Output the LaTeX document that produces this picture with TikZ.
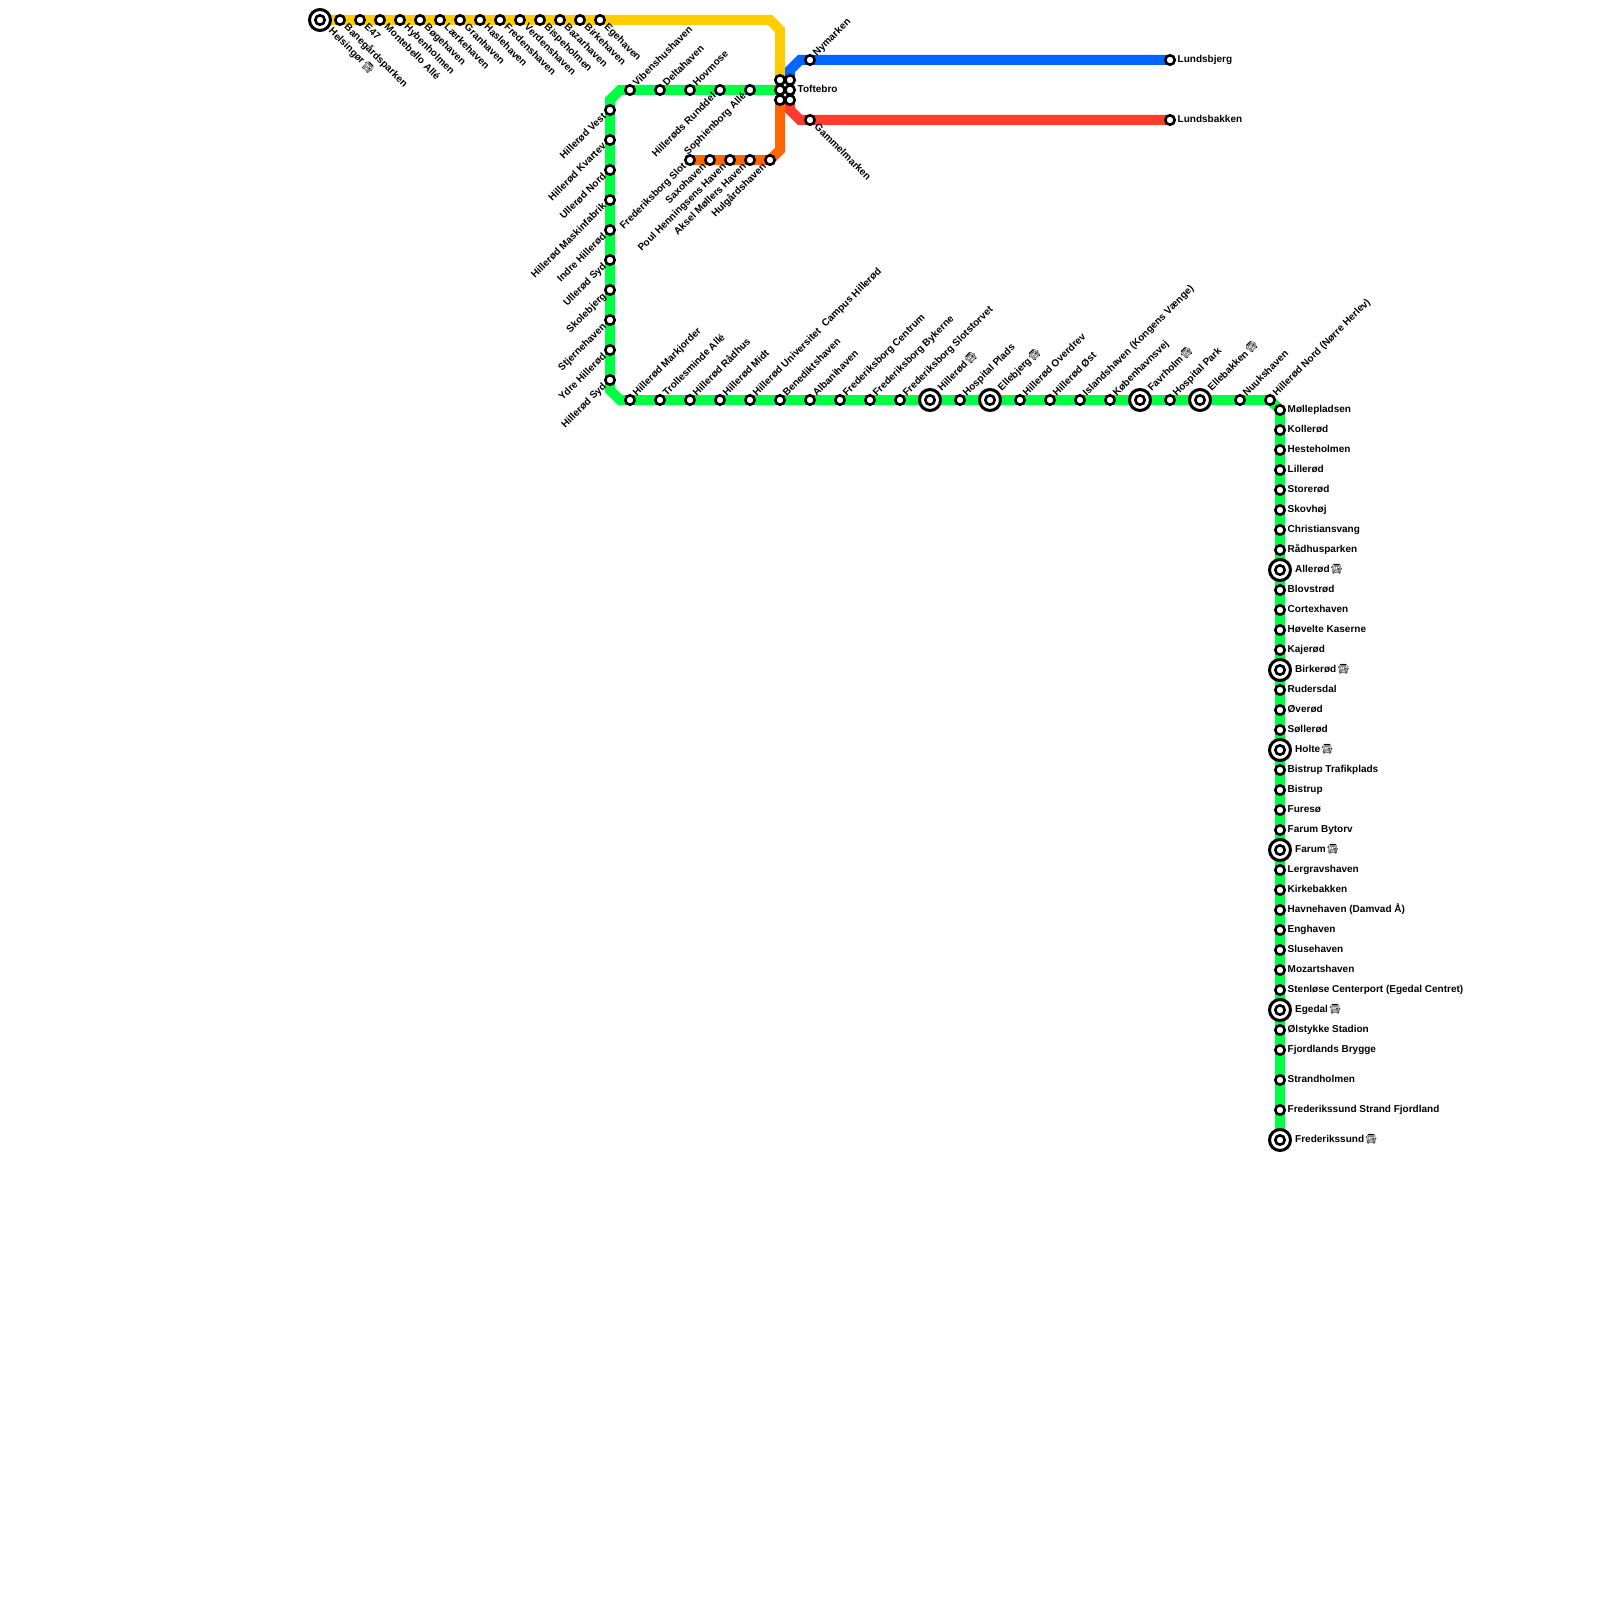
\documentclass[tikz,border=0pt]{standalone}
\usepackage{fontspec}
\setmainfont{Liberation Sans}
\newfontfamily\emojifont{Noto Emoji}
\usetikzlibrary{backgrounds}
\newcommand{\busicon}{\kern1pt{\fontsize{9.5}{9.5}\emojifont\symbol{"1F68D}}}
\tikzset{
    stn/.style={circle, draw=black, fill=white, line width=2.6pt, minimum size=9.4pt, inner sep=0pt},
    bigstn/.style={circle, draw=black, fill=white, line width=3pt, minimum size=21pt, inner sep=0pt},
    route/.style={line width=10pt, line join=miter},
    lbl/.style={font=\fontsize{10}{12}\selectfont\bfseries, inner sep=0pt, text height=7pt, text depth=2pt},
    lblright/.style={lbl, anchor=west},
    lblup/.style={lbl, anchor=west, rotate=45},
    lbldown/.style={lbl, anchor=west, rotate=-45},
    lblleft/.style={lbl, anchor=east, rotate=45},
}
\definecolor{lineyellow}{HTML}{FFCC00}
\definecolor{linegreen}{HTML}{00FF44}
\definecolor{lineblue}{HTML}{0066FF}
\definecolor{linered}{HTML}{FF3B30}
\definecolor{lineorange}{HTML}{FF6600}
\begin{document}
\begin{tikzpicture}[x=1pt, y=-1pt]
        \useasboundingbox (0,0) rectangle (1600,1600);

        % Yellow line
        \node[bigstn] (helsingor) at (320,20) {};
        \node[stn] at (320,20) {};
        \node[lbldown] at (330,30) {Helsingør\busicon};
        \foreach \x/\name [count=\i] in {340/Banegårdsparken, 360/E47, 380/Montebello Allé, 400/Hybenholmen,
            420/Bøgehaven, 440/Lærkehaven, 460/Granhaven, 480/Haslehaven, 500/Fredenshaven,
            520/Verdenshaven, 540/Bispeholmen, 560/Bazarhaven, 580/Birkehaven, 600/Egehaven} {
            \node[stn] (y\i) at (\x,20) {};
            \node[lbldown] at (\x+5.5,26) {\name};
        }
        \coordinate (ybend1) at (770,20);
        \coordinate (ybend2) at (780,30);

        % Toftebro
        \foreach \x/\c in {780/a, 790/b} {
            \foreach \y in {80,90,100} {
                \node[stn] (t\c\y) at (\x,\y) {};
            }
        }
        \node[lblright] at (797.5,90) {Toftebro};

        % Blue line
        \node[stn] (nymarken) at (810,60) {};
        \node[stn] (lundsbjerg) at (1170,60) {};
        \node[lblup] at (815,55) {Nymarken};
        \node[lblright] at (1177.5,60) {Lundsbjerg};
        \coordinate (bbend1) at (790,70);
        \coordinate (bbend2) at (800,60);

        % Red line
        \node[stn] (gammelmarken) at (810,120) {};
        \node[stn] (lundsbakken) at (1170,120) {};
        \node[lbldown] at (815.5,126) {Gammelmarken};
        \node[lblright] at (1177.5,120) {Lundsbakken};
        \coordinate (rbend1) at (790,110);
        \coordinate (rbend2) at (800,120);

        % Orange line
        \foreach \x/\name [count=\i] in {690/Frederiksborg Slot, 710/Saxohaven, 730/Poul Henningsens Haven,
            750/Aksel Møllers Haven, 770/Hulgårdshaven} {
            \node[stn] (o\i) at (\x,160) {};
            \node[lblleft] at (\x-5,165) {\name};
        }
        \coordinate (obend1) at (770,160);
        \coordinate (obend2) at (780,150);

        % Green line, upper row
        \foreach \x/\name [count=\i] in {630/Vibenshushaven, 660/Deltahaven, 690/Hovmose} {
            \node[stn] (gt\i) at (\x,90) {};
            \node[lblup] at (\x+5,85) {\name};
        }
        \foreach \x/\name [count=\i] in {720/Hillerøds Runddel, 750/Sophienborg Allé} {
            \node[stn] (gs\i) at (\x,90) {};
            \node[lblleft] at (\x-5,95) {\name};
        }
        \coordinate (gbend1) at (620,90);
        \coordinate (gbend2) at (610,100);

        % Green line, left column
        \foreach \y/\name [count=\i] in {110/Hillerød Vest, 140/Hillerød Kvartev, 170/Ullerød Nord,
            200/Hillerød Maskinfabrik, 230/Indre Hillerød, 260/Ullerød Syd, 290/Skolebjerg,
            320/Stjernehaven, 350/Ydre Hillerød, 380/Hillerød Syd} {
            \node[stn] (gl\i) at (610,\y) {};
            \node[lblleft] at (605,\y+5) {\name};
        }
        \coordinate (gbend3) at (610,390);
        \coordinate (gbend4) at (620,400);

        % Green line, lower row
        \foreach \x/\name [count=\i] in {630/Hillerød Markjorder, 660/Trollesminde Allé, 690/Hillerød Rådhus,
            720/Hillerød Midt, 750/Hillerød Universitet~~Campus Hillerød, 780/Benediktshaven, 810/Albanihaven,
            840/Frederiksborg Centrum, 870/Frederiksborg Bykerne, 900/Frederiksborg Slotstorvet,
            960/Hospital Plads, 1020/Hillerød Overdrev, 1050/Hillerød Øst,
            1080/Islandshaven (Kongens Vænge), 1110/Københavnsvej, 1170/Hospital Park,
            1240/Nuukshaven, 1270/Hillerød Nord (Nørre Herlev)} {
            \node[stn] (gb\i) at (\x,400) {};
            \node[lblup] at (\x+5,395) {\name};
        }
        \foreach \x/\name [count=\i] in {930/Hillerød, 990/Ellebjerg, 1140/Favrholm, 1200/Ellebakken} {
            \node[bigstn] (gh\i) at (\x,400) {};
            \node[stn] at (\x,400) {};
            \node[lblup] at (\x+10,390) {\name\busicon};
        }
        \coordinate (gbend5) at (1270,400);
        \coordinate (gbend6) at (1280,410);

        % Green line, right column
        \foreach \y/\name [count=\i] in {410/Møllepladsen, 430/Kollerød, 450/Hesteholmen, 470/Lillerød,
            490/Storerød, 510/Skovhøj, 530/Christiansvang, 550/Rådhusparken, 590/Blovstrød,
            610/Cortexhaven, 630/Høvelte Kaserne, 650/Kajerød, 690/Rudersdal, 710/Øverød,
            730/Søllerød, 770/Bistrup Trafikplads, 790/Bistrup, 810/Furesø, 830/Farum Bytorv,
            870/Lergravshaven, 890/Kirkebakken, 910/Havnehaven (Damvad Å), 930/Enghaven,
            950/Slusehaven, 970/Mozartshaven, 990/Stenløse Centerport (Egedal Centret),
            1030/Ølstykke Stadion, 1050/Fjordlands Brygge, 1080/Strandholmen,
            1110/Frederikssund Strand Fjordland} {
            \node[stn] (gr\i) at (1280,\y) {};
            \node[lblright] at (1287.5,\y) {\name};
        }
        \foreach \y/\name [count=\i] in {570/Allerød, 670/Birkerød, 750/Holte, 850/Farum, 1010/Egedal, 1140/Frederikssund} {
            \node[bigstn] (gc\i) at (1280,\y) {};
            \node[stn] at (1280,\y) {};
            \node[lblright] at (1295,\y) {\name\busicon};
        }

        % Routes
        \begin{scope}[on background layer]
            \draw[route, lineyellow] (helsingor.center) -- (ybend1) -- (ybend2) -- (ta80.center);
            \draw[route, lineblue] (tb80.center) -- (bbend1) -- (bbend2) -- (lundsbjerg.center);
            \draw[route, linered] (tb100.center) -- (rbend1) -- (rbend2) -- (lundsbakken.center);
            \draw[route, lineorange] (o1.center) -- (obend1) -- (obend2) -- (ta100.center);
            \draw[route, linegreen] (ta90.center) -- (gbend1) -- (gbend2) -- (gbend3) -- (gbend4) -- (gbend5) -- (gbend6) -- (gc6.center);
        \end{scope}
    \end{tikzpicture}
\end{document}
